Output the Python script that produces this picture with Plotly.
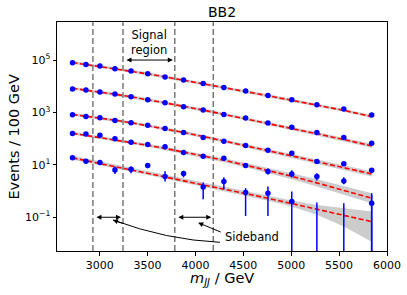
import plotly.graph_objects as go

# ---------------- data ----------------
mjj = [2717, 2857, 3003, 3160, 3328, 3502, 3683, 3876, 4081, 4297, 4524, 4757, 5006, 5268, 5549, 5840]

data_1 = [78900, 67900, 59000, 46600, 38000, 29900, 22400, 17200, 12800, 8970, 6530, 4440, 3040, 1960, 1340, 791]
fit_1 = [80200, 67300, 57400, 46900, 37700, 29700, 22800, 17100, 12500, 8970, 6310, 4370, 2910, 1910, 1200, 700]
data_2 = [7800, 7140, 5980, 5020, 3930, 3070, 2330, 1640, 1230, 834, 608, 394, 275, 170, 110, 67.3]
fit_2 = [8300, 7140, 6040, 4930, 3960, 3070, 2330, 1720, 1230, 849, 571, 378, 248, 154, 92.5, 53.1]
data_3 = [813, 700, 624, 492, 402, 328, 243, 171, 110, 80.4, 54.6, 36.4, 27.9, 13.3, 10.9, 6.27]
fit_3 = [841, 724, 614, 505, 406, 314, 237, 173, 121, 82.4, 54.6, 35.2, 22.0, 13.2, 7.80, 4.52]
data_4 = [157, 149, 136, 98.4, 73.6, 59.6, 48.6, 29.4, 21.5, 18.0, 9.38, 5.53, 4.52, 3.56, 2.44, 0.344]
fit_4 = [160, 134, 111, 90.8, 71.8, 55.8, 42.4, 31.2, 22.0, 15.0, 9.70, 6.17, 3.66, 2.05, 1.08, 0.533]
data_5 = [18.5, 13.8, 12.2, 6.43, 6.84, 9.38, 3.63, 4.72, 1.44, 2.30, 0.873, 0.828, 0.395, None, None, None]
fit_5 = [18.5, 14.5, 11.4, 8.75, 6.58, 4.90, 3.58, 2.58, 1.79, 1.22, 0.805, 0.530, 0.333, 0.203, 0.119, 0.0681]

# error-bar bounds (0 = bar runs below the axis)
hi_4 = [179, 170, 155, 112, 84, 68, 56, 34, 25, 21.5, 11.7, 7.21, 6.27, 4.81, 3.38, 0.828]
lo_4 = [138, 131, 119, 86, 64.5, 52, 42, 25.5, 18.5, 15.1, 7.53, 4.26, 3.27, 2.51, 1.83, 0]
hi_5 = [22.0, 16.5, 14.6, 8.59, 8.59, 11.6, 5.64, 5.89, 2.10, 3.38, 1.29, 1.48, 0.953, 0.362, 0.344, 0.713]
lo_5 = [15.5, 11.6, 10.3, 4.52, 4.81, 7.46, 2.34, 3.33, 0.489, 1.18, 0.112, 0.112, 0, 0, 0, 0]

# relative fit uncertainty (upper / lower)
unc_up_1 = [0.14, 0.14, 0.14, 0.14, 0.14, 0.14, 0.14, 0.14, 0.14, 0.14, 0.14, 0.14, 0.14, 0.14, 0.14, 0.15]
unc_dn_1 = [0.12, 0.12, 0.12, 0.12, 0.12, 0.12, 0.12, 0.12, 0.12, 0.12, 0.12, 0.12, 0.12, 0.12, 0.12, 0.13]
unc_up_2 = [0.14, 0.14, 0.14, 0.14, 0.14, 0.14, 0.14, 0.14, 0.14, 0.14, 0.14, 0.14, 0.15, 0.16, 0.17, 0.19]
unc_dn_2 = [0.12, 0.12, 0.12, 0.12, 0.12, 0.12, 0.12, 0.12, 0.12, 0.12, 0.12, 0.12, 0.13, 0.14, 0.15, 0.16]
unc_up_3 = [0.14, 0.14, 0.14, 0.14, 0.14, 0.14, 0.14, 0.15, 0.15, 0.16, 0.17, 0.18, 0.19, 0.21, 0.23, 0.25]
unc_dn_3 = [0.12, 0.12, 0.12, 0.12, 0.12, 0.12, 0.12, 0.13, 0.13, 0.14, 0.14, 0.15, 0.16, 0.17, 0.18, 0.20]
unc_up_4 = [0.14, 0.14, 0.14, 0.14, 0.15, 0.15, 0.16, 0.17, 0.18, 0.19, 0.21, 0.25, 0.30, 0.38, 0.46, 0.55]
unc_dn_4 = [0.12, 0.12, 0.12, 0.12, 0.13, 0.13, 0.14, 0.14, 0.15, 0.16, 0.17, 0.20, 0.23, 0.27, 0.31, 0.36]
unc_up_5 = [0.19, 0.19, 0.19, 0.19, 0.19, 0.19, 0.19, 0.20, 0.20, 0.21, 0.23, 0.25, 0.30, 0.46, 0.85, 1.41]
unc_dn_5 = [0.16, 0.16, 0.16, 0.16, 0.16, 0.16, 0.16, 0.17, 0.17, 0.18, 0.19, 0.20, 0.23, 0.39, 0.63, 0.83]

region_edges = [2930, 3244, 3785, 4186]
x_ticks = [3000, 3500, 4000, 4500, 5000, 5500, 6000]
y_ticks = [0.1, 10, 1000, 100000]
y_tick_text = ["10<sup>\u22121</sup>", "10<sup>1</sup>", "10<sup>3</sup>", "10<sup>5</sup>"]

# ---------------- figure ----------------
FONT = "DejaVu Sans"
Y_RANGE = [-2.288, 6.452]
FLOOR = 10 ** (Y_RANGE[0] - 1)

fig = go.Figure()

series = [
    (data_1, fit_1, unc_up_1, unc_dn_1),
    (data_2, fit_2, unc_up_2, unc_dn_2),
    (data_3, fit_3, unc_up_3, unc_dn_3),
    (data_4, fit_4, unc_up_4, unc_dn_4),
    (data_5, fit_5, unc_up_5, unc_dn_5),
]

for data, fit, up, dn in series:
    upper = [f * (1 + u) for f, u in zip(fit, up)]
    lower = [f * (1 - d) for f, d in zip(fit, dn)]
    fig.add_trace(go.Scatter(
        x=mjj + mjj[::-1], y=upper + lower[::-1], fill="toself",
        fillcolor="rgba(128,128,128,0.4)", line=dict(width=0),
        mode="lines", hoverinfo="skip", showlegend=False))

for data, fit, up, dn in series:
    fig.add_trace(go.Scatter(
        x=mjj, y=fit, mode="lines",
        line=dict(color="#ff0000", width=1.6, dash="5px,2.5px"),
        showlegend=False))

# error bars
for hi, lo in [(hi_4, lo_4), (hi_5, lo_5)]:
    ex, ey = [], []
    for x, h, l in zip(mjj, hi, lo):
        ex += [x, x, None]
        ey += [h, l if l > 0 else FLOOR, None]
    fig.add_trace(go.Scatter(x=ex, y=ey, mode="lines",
                             line=dict(color="#0000ff", width=1.5),
                             showlegend=False, hoverinfo="skip"))

for data, fit, up, dn in series:
    fig.add_trace(go.Scatter(
        x=mjj, y=data, mode="markers",
        marker=dict(color="#0000ff", size=5.5, line=dict(width=0)),
        showlegend=False))

# region boundaries
for e in region_edges:
    fig.add_shape(type="line", x0=e, x1=e, y0=0, y1=1, xref="x", yref="paper",
                  line=dict(color="#666666", width=1.3, dash="6px,3px"), layer="below")

# double arrows
def double_arrow(x0, x1, ylog):
    fig.add_annotation(x=x1, y=ylog, ax=x0, ay=ylog, xref="x", yref="y",
                       axref="x", ayref="y", text="", showarrow=True,
                       arrowside="end+start", arrowhead=2, arrowsize=1.0,
                       arrowwidth=1.0, arrowcolor="black", standoff=2, startstandoff=2)

double_arrow(region_edges[1], region_edges[2], 5.0)
double_arrow(region_edges[0], region_edges[1], -1.0)
double_arrow(region_edges[2], region_edges[3], -1.0)

fig.add_annotation(x=(region_edges[1] + region_edges[2]) / 2, y=5.66, xref="x", yref="y",
                   text="Signal<br>region", showarrow=False,
                   font=dict(family=FONT, size=11.5, color="black"), align="center")

fig.add_annotation(x=4590, y=-1.741, xref="x", yref="y", text="Sideband",
                   showarrow=False, font=dict(family=FONT, size=11.5, color="black"))

# straight arrow from label to right sideband
fig.add_annotation(x=4029, y=0.1237, xref="x", yref="paper", text="",
                   showarrow=True, ax=24, ay=10, axref="pixel", ayref="pixel",
                   arrowhead=2, arrowsize=1.0, arrowwidth=1.0, arrowcolor="black")
# curved arrow from label to left sideband
fig.add_shape(type="path", xref="x", yref="paper",
              path="M 4256,0.038 Q 3697,0.0485 3139,0.1356",
              line=dict(color="black", width=1.0))
fig.add_annotation(x=3139, y=0.1356, xref="x", yref="paper", text="",
                   showarrow=True, ax=11, ay=4, axref="pixel", ayref="pixel",
                   arrowhead=2, arrowsize=1.0, arrowwidth=1.0, arrowcolor="black")

# axis titles
fig.add_annotation(x=-0.133, y=0.5, xref="paper", yref="paper", text="Events / 100 GeV",
                   textangle=-90, showarrow=False, xanchor="center", yanchor="middle",
                   font=dict(family=FONT, size=14.5, color="black"))
fig.add_annotation(x=0.5, y=-0.124, xref="paper", yref="paper",
                   text="<i>m</i><sub><i>JJ</i></sub> / GeV",
                   showarrow=False, xanchor="center", yanchor="middle",
                   font=dict(family=FONT, size=14.5, color="black"))

fig.update_layout(
    width=407, height=295,
    margin=dict(l=57, r=20, t=22, b=44, autoexpand=False),
    plot_bgcolor="white", paper_bgcolor="white",
    showlegend=False,
    font=dict(family=FONT, color="black"),
    title=dict(text="BB2", x=0.5, xref="paper", xanchor="center",
               y=1 - 12 / 295, yref="container", yanchor="middle",
               font=dict(family=FONT, size=14, color="black")),
)
fig.update_xaxes(
    range=[2555, 6000], tickvals=x_ticks, ticks="outside", ticklen=3.5, tickwidth=1,
    tickcolor="black", showline=True, mirror=True, linecolor="black", linewidth=1,
    showgrid=False, zeroline=False, automargin=False,
    tickfont=dict(family=FONT, size=11, color="black"))
fig.update_yaxes(
    type="log", range=Y_RANGE, tickvals=y_ticks, ticktext=y_tick_text,
    ticks="outside", ticklen=3.5, tickwidth=1, tickcolor="black",
    showline=True, mirror=True, linecolor="black", linewidth=1,
    showgrid=False, zeroline=False, automargin=False,
    tickfont=dict(family=FONT, size=11, color="black"))

fig.write_html("out.html", config={"displayModeBar": False, "staticPlot": True},
               post_script="document.body.style.margin='0px';")
